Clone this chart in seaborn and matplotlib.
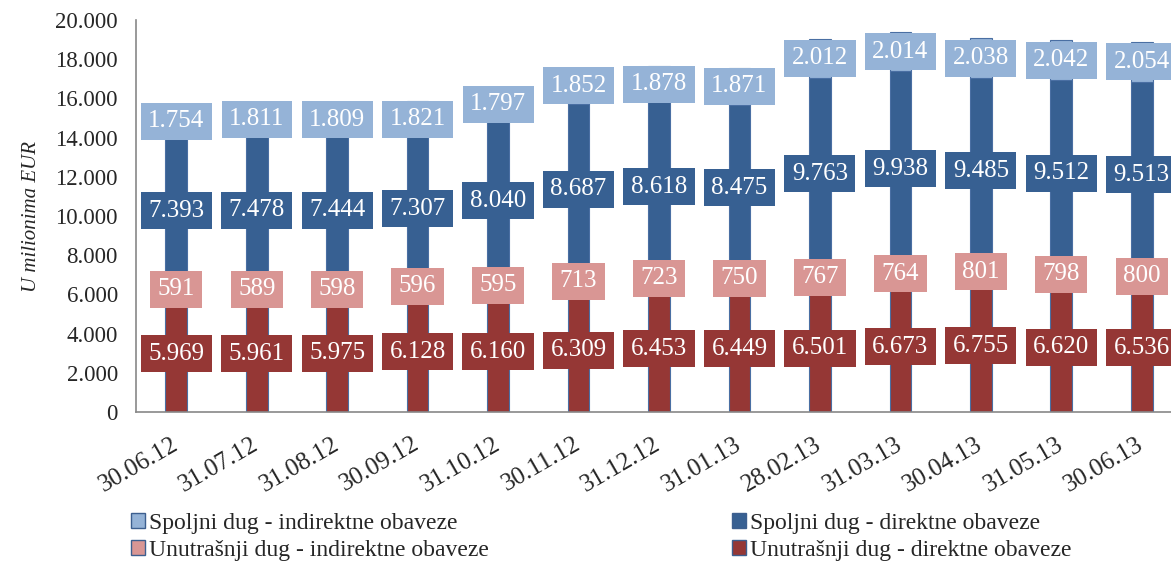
import matplotlib
matplotlib.use("Agg")
import matplotlib.pyplot as plt
import seaborn as sns
import numpy as np
from matplotlib.patches import Patch

dates = ["30.06.12", "31.07.12", "31.08.12", "30.09.12", "31.10.12", "30.11.12", "31.12.12",
         "31.01.13", "28.02.13", "31.03.13", "30.04.13", "31.05.13", "30.06.13"]
unutr_direktne = [5969, 5961, 5975, 6128, 6160, 6309, 6453, 6449, 6501, 6673, 6755, 6620, 6536]
unutr_indirektne = [591, 589, 598, 596, 595, 713, 723, 750, 767, 764, 801, 798, 800]
spolj_direktne = [7393, 7478, 7444, 7307, 8040, 8687, 8618, 8475, 9763, 9938, 9485, 9512, 9513]
spolj_indirektne = [1754, 1811, 1809, 1821, 1797, 1852, 1878, 1871, 2012, 2014, 2038, 2042, 2054]

series = [
    ("Unutrašnji dug - direktne obaveze", unutr_direktne, "#953735"),
    ("Unutrašnji dug - indirektne obaveze", unutr_indirektne, "#D99694"),
    ("Spoljni dug - direktne obaveze", spolj_direktne, "#376092"),
    ("Spoljni dug - indirektne obaveze", spolj_indirektne, "#95B3D7"),
]

sns.set_style("white")
plt.rcParams["font.family"] = ["Liberation Serif", "DejaVu Serif"]

fig = plt.figure(figsize=(11.71, 5.68), dpi=100)
ax = fig.add_axes([136 / 1171, 156 / 568, 1046 / 1171, 392 / 568])

bottom = np.zeros(len(dates))
for name, vals, col in series:
    vals = np.array(vals, dtype=float)
    sns.barplot(x=dates, y=vals, bottom=bottom, color=col, width=0.27,
                edgecolor="#4a6fa3", linewidth=0.8, saturation=1, ax=ax)
    for i, v in enumerate(vals):
        ax.text(i, bottom[i] + v / 2, f"{int(v):,}".replace(",", "."),
                ha="center", va="center", color="white", fontsize=18,
                bbox=dict(boxstyle="square,pad=0.3", facecolor=col, edgecolor="none"))
    bottom += vals

ax.set_xlim(-0.5, 12.5)
ax.set_ylim(0, 20000)
ax.set_yticks(np.arange(0, 20001, 2000))
ax.set_yticklabels([f"{v:,}".replace(",", ".") for v in range(0, 20001, 2000)], fontsize=16.5)
ax.set_xticks(range(len(dates)))
ax.set_xticklabels(dates, rotation=30, fontsize=18, ha="right", va="center",
                   rotation_mode="anchor")
ax.set_xticks(np.arange(0.5, 12.5, 1), minor=True)
ax.tick_params(axis="x", which="major", length=0, pad=22)
ax.tick_params(axis="x", which="minor", length=6, color="#888888", direction="out")
ax.tick_params(axis="y", length=6, color="#888888", direction="out", pad=7)
ax.set_ylabel("U milionima EUR", fontsize=15, style="italic", labelpad=10)
ax.set_xlabel("")
for s in ["top", "right"]:
    ax.spines[s].set_visible(False)
for s in ["left", "bottom"]:
    ax.spines[s].set_color("#888888")
    ax.spines[s].set_linewidth(1.2)

handles = [Patch(facecolor=series[3][2], edgecolor="#3d5f8f", label=series[3][0]),
           Patch(facecolor=series[1][2], edgecolor="#3d5f8f", label=series[1][0]),
           Patch(facecolor=series[2][2], edgecolor="#3d5f8f", label=series[2][0]),
           Patch(facecolor=series[0][2], edgecolor="#3d5f8f", label=series[0][0])]
fig.legend(handles=handles, ncol=2, loc="lower left", bbox_to_anchor=(110 / 1171, -0.025),
           frameon=False, fontsize=17, handlelength=0.6, handleheight=0.6,
           handletextpad=0.15, columnspacing=10.3, labelspacing=0.25)

fig.savefig("out.png", dpi=100)
